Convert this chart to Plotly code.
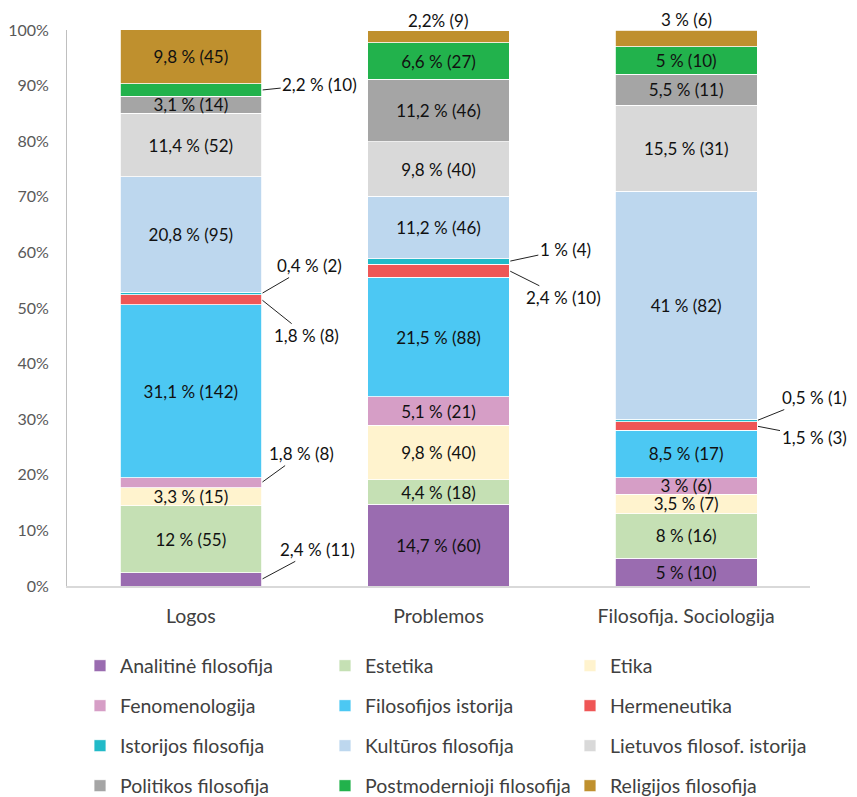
import plotly.graph_objects as go

journals = ["Logos", "Problemos", "Filosofija. Sociologija"]
fields = [
    "Analitinė filosofija", "Estetika", "Etika",
    "Fenomenologija", "Filosofijos istorija", "Hermeneutika",
    "Istorijos filosofija", "Kultūros filosofija", "Lietuvos filosof. istorija",
    "Politikos filosofija", "Postmodernioji filosofija", "Religijos filosofija",
]

# share of articles (%) per field, in the order of `fields`
pct_logos = [2.4, 12, 3.3, 1.8, 31.1, 1.8, 0.4, 20.8, 11.4, 3.1, 2.2, 9.8]
pct_problemos = [14.7, 4.4, 9.8, 5.1, 21.5, 2.4, 1, 11.2, 9.8, 11.2, 6.6, 2.2]
pct_filsoc = [5, 8, 3.5, 3, 8.5, 1.5, 0.5, 41, 15.5, 5.5, 5, 3]

# number of articles per field
cnt_logos = [11, 55, 15, 8, 142, 8, 2, 95, 52, 14, 10, 45]
cnt_problemos = [60, 18, 40, 21, 88, 10, 4, 46, 40, 46, 27, 9]
cnt_filsoc = [10, 16, 7, 6, 17, 3, 1, 82, 31, 11, 10, 6]

y_ticks = list(range(0, 101, 10))
y_tick_labels = [f"{v}%" for v in y_ticks]

pct = [pct_logos, pct_problemos, pct_filsoc]
cnt = [cnt_logos, cnt_problemos, cnt_filsoc]

colors = [
    "#9A6CB0", "#C5E0B4", "#FFF3CE",
    "#D69EC6", "#4CC8F3", "#EF5656",
    "#22BAC8", "#BDD7EE", "#D9D9D9",
    "#A5A5A5", "#22B24C", "#BF902E",
]

# labels drawn outside their segment: (journal, field, dx px, dy px, kind, percent-sign spacing)
callouts = [
    (0, 10, 58, -6, "side", " "),
    (0, 6, 48, -28, "side", " "),
    (0, 5, 45, 36, "side", " "),
    (0, 3, 40, -29, "side", " "),
    (0, 0, 56, -30, "side", " "),
    (1, 6, 56, -12, "side", " "),
    (1, 5, 54, 27, "side", " "),
    (1, 11, 0, 0, "top", ""),
    (2, 6, 57, -23, "side", " "),
    (2, 5, 57, 11, "side", " "),
    (2, 11, 0, 0, "top", " "),
]

FONT = "Lato, 'Open Sans', sans-serif"
BARGAP = 0.428
PAGE_OFFSET = 8  # default body margin of the html page
W, H = 857, 797


def fmt(p, c, sp=" "):
    return f"{p:g}".replace(".", ",") + sp + "% (" + str(c) + ")"


outside = {(j, i) for j, i, *_ in callouts}

fig = go.Figure()
for i, name in enumerate(fields):
    texts = ["" if (j, i) in outside else fmt(pct[j][i], cnt[j][i]) for j in range(3)]
    fig.add_trace(go.Bar(
        name=name,
        x=journals,
        y=[pct[j][i] for j in range(3)],
        text=texts,
        textposition="inside",
        insidetextanchor="middle",
        textangle=0,
        textfont=dict(family=FONT, size=17, color="#111111"),
        marker=dict(color=colors[i], line=dict(color="white", width=0.8)),
        legend="legend" if i // 3 == 0 else f"legend{i // 3 + 1}",
        hoverinfo="skip",
    ))

annotations = []
half = (1 - BARGAP) / 2
for j, i, dx, dy, kind, sp in callouts:
    below = sum(pct[j][:i])
    label = fmt(pct[j][i], cnt[j][i], sp)
    if kind == "side":
        annotations.append(dict(
            x=j + half, y=below + pct[j][i] / 2, xref="x", yref="y",
            text=label, showarrow=True, arrowhead=0, arrowwidth=1,
            arrowcolor="#222222", ax=dx, ay=dy, standoff=1,
            font=dict(family=FONT, size=17, color="#111111"),
        ))
    else:
        annotations.append(dict(
            x=j, y=below + pct[j][i], xref="x", yref="y",
            text=label, showarrow=False, yanchor="bottom", yshift=-2,
            font=dict(family=FONT, size=17, color="#111111"),
        ))

plot_left, plot_top, plot_right, plot_bottom = 67, 30, 810, 586
fig.update_layout(
    width=W - PAGE_OFFSET, height=H - PAGE_OFFSET,
    margin=dict(l=plot_left - PAGE_OFFSET, r=W - plot_right, t=plot_top - PAGE_OFFSET,
                b=H - plot_bottom, autoexpand=False),
    paper_bgcolor="white", plot_bgcolor="white",
    barmode="stack", bargap=BARGAP,
    font=dict(family=FONT, color="#404040"),
    uniformtext=dict(mode="show", minsize=17),
    annotations=annotations,
    xaxis=dict(
        type="category", range=[-0.5, 2.5],
        showline=True, linecolor="#D9D9D9", linewidth=1.5,
        ticks="", ticklabelstandoff=12,
        tickfont=dict(family=FONT, size=19.5, color="#404040"),
        showgrid=False,
    ),
    yaxis=dict(
        range=[0, 100], tickvals=y_ticks, ticktext=y_tick_labels,
        showline=True, linecolor="#BFBFBF", linewidth=1,
        ticks="", ticklabelstandoff=14,
        tickfont=dict(family=FONT, size=16, color="#595959"),
        showgrid=False, zeroline=False,
    ),
)

legend_rows_px = [666, 706, 746, 786]
plot_w = plot_right - plot_left
plot_h = plot_bottom - plot_top
for r, py in enumerate(legend_rows_px):
    key = "legend" if r == 0 else f"legend{r + 1}"
    fig.update_layout({key: dict(
        orientation="h", x=(80 - plot_left) / plot_w, xanchor="left",
        y=(plot_bottom - py) / plot_h, yanchor="middle",
        entrywidth=200, entrywidthmode="pixels",
        font=dict(family=FONT, size=19.5, color="#404040"),
        bgcolor="rgba(0,0,0,0)", traceorder="normal",
    )})

fig.write_html("out.html")
